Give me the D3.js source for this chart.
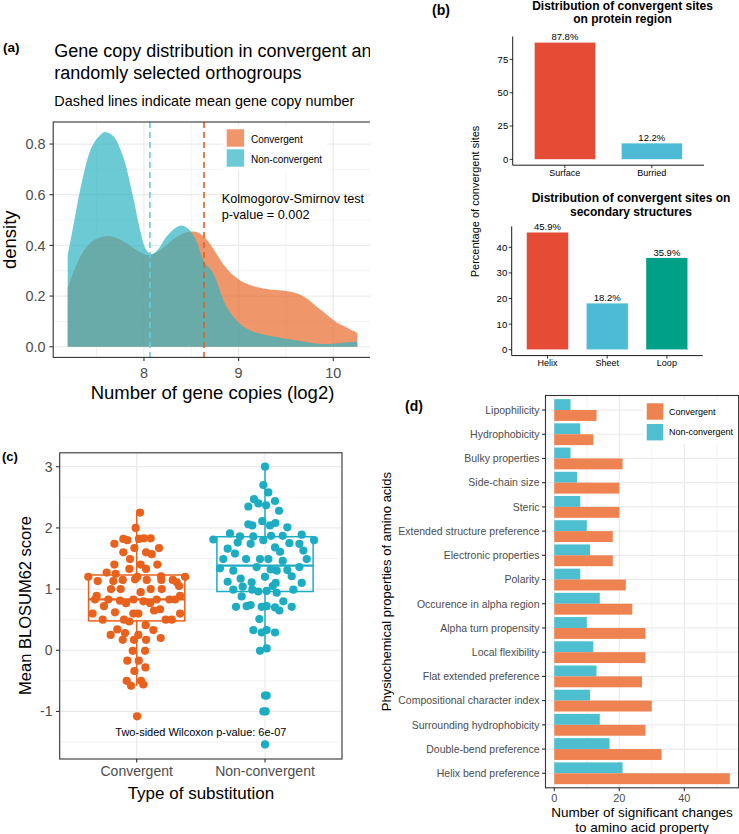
<!DOCTYPE html>
<html><head><meta charset="utf-8">
<script src="https://cdn.jsdelivr.net/npm/d3@7"></script>
<style>body{margin:0;background:#fff}svg{display:block;font-family:"Liberation Sans",Arial,Helvetica,sans-serif}</style>
</head><body><svg id="chart" width="739" height="834"></svg>
<script>
// ================= DATA =================
// (a) density of gene copy number (log2)
const densityGroups = ["Convergent", "Non-convergent"];
const convDensX = [7.194,7.25,7.35,7.45,7.55,7.62,7.72,7.85,7.95,8.03,8.12,8.25,8.35,8.45,8.52,8.6,8.68,8.76,8.85,8.95,9.05,9.2,9.35,9.5,9.62,9.72,9.82,9.92,10.02,10.12,10.254];
const convDensY = [0.233,0.29,0.37,0.415,0.433,0.437,0.428,0.4,0.375,0.362,0.37,0.405,0.435,0.452,0.455,0.445,0.415,0.37,0.32,0.28,0.255,0.235,0.225,0.22,0.21,0.19,0.16,0.13,0.1,0.08,0.055];
const nonDensX = [7.194,7.25,7.35,7.45,7.55,7.6,7.68,7.78,7.88,7.96,8.02,8.08,8.15,8.25,8.38,8.47,8.55,8.63,8.73,8.87,9.01,9.15,9.3,9.5,9.7,9.85,10.0,10.15,10.254];
const nonDensY = [0.36,0.47,0.66,0.79,0.84,0.847,0.83,0.75,0.6,0.46,0.385,0.365,0.385,0.44,0.478,0.465,0.42,0.34,0.29,0.16,0.092,0.06,0.045,0.032,0.02,0.012,0.012,0.018,0.02];
const meanCopies = [8.634, 8.063];
const densXTicks = [8, 9, 10];
const densYTicks = [0, 0.2, 0.4, 0.6, 0.8];
const densYTickLabels = ["0.0", "0.2", "0.4", "0.6", "0.8"];

// (b) convergent sites
const regionCats = ["Surface", "Burried"];
const regionPct = [87.8, 12.2];
const regionTicks = [0, 25, 50, 75];
const ssCats = ["Helix", "Sheet", "Loop"];
const ssPct = [45.9, 18.2, 35.9];
const ssTicks = [0, 10, 20, 30, 40];

// (c) BLOSUM62 scores
const substCats = ["Convergent", "Non-convergent"];
const boxQ1 = [0.48, 0.96];
const boxMedian = [0.833, 1.382];
const boxQ3 = [1.23, 1.856];
const whiskerLow = [-0.58, 0.0];
const whiskerHigh = [2.25, 3.0];
const convJitter = [0.026,-0.008,-0.104,-0.073,-0.174,0.018,0.057,0.109,-0.018,-0.104,0.073,0.117,0.174,-0.052,-0.174,0.031,0.073,0.161,-0.057,-0.234,-0.164,-0.377,0.377,-0.304,-0.182,-0.109,-0.013,0.005,0.078,0.19,0.192,0.281,0.312,-0.2,-0.125,0.031,0.109,0.195,0.33,-0.312,-0.325,0.338,0.299,-0.221,-0.13,-0.083,-0.026,0.052,0.104,0.156,0.255,-0.255,-0.343,-0.169,-0.026,0.013,0.135,0.182,0.338,-0.265,-0.099,-0.057,0.226,0.273,0.07,-0.151,-0.203,-0.091,0.013,0.13,-0.109,-0.021,0.073,0.187,-0.031,0.065,-0.073,0.016,0.068,-0.018,-0.078,0.034,-0.044,0.052,0.003];
const convScore = [2.25,2.0,1.82,1.8,1.74,1.82,1.83,1.83,1.67,1.6,1.6,1.57,1.67,1.49,1.4,1.4,1.33,1.4,1.33,1.27,1.25,1.2,1.2,1.13,1.13,1.15,1.16,1.2,1.15,1.21,1.15,1.15,1.11,1.0,1.0,0.95,1.0,1.0,1.05,0.89,0.83,0.89,0.83,0.83,0.81,0.77,0.83,0.8,0.77,0.83,0.83,0.72,0.6,0.62,0.6,0.6,0.65,0.67,0.6,0.5,0.5,0.47,0.5,0.5,0.41,0.34,0.25,0.28,0.25,0.33,0.17,0.17,0.17,0.2,-0.01,-0.01,-0.17,-0.17,-0.28,-0.34,-0.5,-0.5,-0.58,-0.56,-1.08];
const nonJitter = [0,-0.013,0.026,-0.086,-0.052,-0.13,0.008,0.078,0.109,-0.13,-0.099,-0.021,0.039,0.081,0.174,-0.273,-0.403,-0.195,-0.091,-0.013,0.047,0.138,0.286,0.382,-0.291,-0.213,-0.112,0.078,0.117,0.19,0.268,0.299,-0.234,-0.325,-0.148,-0.039,0.026,0.138,0.325,-0.351,-0.247,-0.065,0.044,0.091,0.174,0.268,-0.291,-0.19,-0.104,0,0.083,0.208,0.286,-0.247,-0.174,-0.099,-0.052,0.06,0.221,0.013,0.091,-0.182,-0.226,-0.143,-0.112,-0.026,0.013,0.078,0.112,0.143,0.208,-0.044,-0.091,-0.026,0.013,0.078,-0.039,0.013,0,0.013,-0.013,0.005,0];
const nonScore = [3.0,2.7,2.58,2.47,2.4,2.35,2.37,2.44,2.28,2.06,2.04,2.11,2.04,2.08,2.01,1.91,1.81,1.86,1.86,1.8,1.87,1.87,1.89,1.8,1.66,1.76,1.74,1.68,1.61,1.75,1.74,1.63,1.58,1.49,1.49,1.49,1.49,1.46,1.49,1.34,1.3,1.36,1.32,1.3,1.31,1.36,1.12,1.17,1.11,1.2,1.1,1.21,1.1,0.99,1.04,0.99,0.96,1.05,0.99,0.97,0.94,0.88,0.71,0.72,0.74,0.71,0.72,0.7,0.65,0.8,0.71,0.51,0.33,0.29,0.33,0.29,-0.01,0.03,-0.74,-0.74,-1.0,-1.0,-1.54];
const blosumTicks = [-1, 0, 1, 2, 3];

// (d) physicochemical properties
const propCats = ["Lipophilicity","Hydrophobicity","Bulky properties","Side-chain size","Steric","Extended structure preference","Electronic properties","Polarity","Occurence in alpha region","Alpha turn propensity","Local flexibility","Flat extended preference","Compositional character index","Surrounding hydrophobicity","Double-bend preference","Helix bend preference"];
const propConv = [13,12,21,20,20,18,18,22,24,28,28,27,30,28,33,54];
const propNon = [5,8,5,7,8,10,11,8,14,10,12,13,11,14,17,21];
const propTicks = [0, 20, 40];

// ================= DRAW =================
const svg = d3.select("#chart");
svg.append("rect").attr("width", 739).attr("height", 834).attr("fill", "#fff");
const defs = svg.append("defs");
defs.append("clipPath").attr("id", "clipA").append("rect").attr("x", 0).attr("y", 0).attr("width", 370).attr("height", 420);

const GRID = "#EBEBEB", BORDER = "#333333", TICKTXT = "#4D4D4D";
function txt(g, x, y, s, size, o = {}) {
  const t = g.append("text").attr("x", x).attr("y", y).text(s)
    .attr("font-size", size).attr("fill", o.fill || "#000")
    .attr("text-anchor", o.anchor || "start");
  if (o.bold) t.attr("font-weight", "bold");
  if (o.rot) t.attr("transform", `rotate(-90,${x},${y})`);
  if (o.dy) t.attr("dy", o.dy);
  return t;
}
function line(g, x1, y1, x2, y2, c, w, dash) {
  const l = g.append("line").attr("x1", x1).attr("y1", y1).attr("x2", x2).attr("y2", y2)
    .attr("stroke", c).attr("stroke-width", w);
  if (dash) l.attr("stroke-dasharray", dash);
  return l;
}

// ---------- Panel (a) ----------
const gA = svg.append("g").attr("clip-path", "url(#clipA)");
const xA = d3.scaleLinear().domain([7.041, 10.407]).range([53.2, 371.8]);
const yA = d3.scaleLinear().domain([-0.042, 0.887]).range([357.4, 122]);
[7.5, 8.5, 9.5].forEach(v => line(gA, xA(v), yA.range()[1], xA(v), yA.range()[0], GRID, 0.6));
[0.1, 0.3, 0.5, 0.7].forEach(v => line(gA, xA.range()[0], yA(v), xA.range()[1], yA(v), GRID, 0.6));
densXTicks.forEach(v => line(gA, xA(v), yA.range()[1], xA(v), yA.range()[0], GRID, 1.2));
densYTicks.forEach(v => line(gA, xA.range()[0], yA(v), xA.range()[1], yA(v), GRID, 1.2));

const area = d3.area().x(d => xA(d[0])).y0(yA(0)).y1(d => yA(d[1])).curve(d3.curveCatmullRom);
const convPts = convDensX.map((x, i) => [x, convDensY[i]]);
const nonPts = nonDensX.map((x, i) => [x, nonDensY[i]]);
const densFill = ["#E9692C", "#2DB3C2"];
gA.append("path").attr("d", area(convPts)).attr("fill", densFill[0]).attr("fill-opacity", 0.7);
gA.append("path").attr("d", area(nonPts)).attr("fill", densFill[1]).attr("fill-opacity", 0.7);
const meanCol = ["#D5652A", "#66CCE2"];
meanCopies.forEach((m, i) => line(gA, xA(m), yA.range()[1], xA(m), yA.range()[0], meanCol[i], 1.6, "6,4"));

// legend (a)
gA.append("rect").attr("x", 223).attr("y", 126).attr("width", 104).attr("height", 45).attr("fill", "#fff");
densityGroups.forEach((g, i) => {
  gA.append("rect").attr("x", 226.7).attr("y", 129.3 + i * 20).attr("width", 17.4).attr("height", 17.4)
    .attr("fill", densFill[i]).attr("fill-opacity", 0.7);
  txt(gA, 251, 142.5 + i * 20, g, 10);
});
txt(gA, 221.7, 203, "Kolmogorov-Smirnov test", 12.7);
txt(gA, 221.7, 218.8, "p-value = 0.002", 12.7);

// border and axes (a)
gA.append("rect").attr("x", 53.2).attr("y", 122).attr("width", 371.8 - 53.2).attr("height", 357.4 - 122)
  .attr("fill", "none").attr("stroke", BORDER).attr("stroke-width", 1.1);
densYTicks.forEach((v, i) => {
  line(gA, 49.5, yA(v), 53.2, yA(v), BORDER, 1.1);
  txt(gA, 45.5, yA(v), densYTickLabels[i], 14.4, { anchor: "end", fill: TICKTXT, dy: "0.36em" });
});
densXTicks.forEach(v => {
  line(gA, xA(v), 357.4, xA(v), 361, BORDER, 1.1);
  txt(gA, xA(v), 378.3, String(v), 14.4, { anchor: "middle", fill: TICKTXT });
});
txt(gA, 212.5, 398.5, "Number of gene copies (log2)", 18.5, { anchor: "middle" });
txt(gA, 16.5, 239.7, "density", 18.5, { anchor: "middle", rot: true });
txt(gA, 3, 52, "(a)", 13.5, { bold: true });
txt(gA, 54.3, 57, "Gene copy distribution in convergent and", 18);
txt(gA, 54.3, 78.5, "randomly selected orthogroups", 18);
txt(gA, 54.3, 106, "Dashed lines indicate mean gene copy number", 14.4);

// ---------- Panel (b) ----------
const gB = svg.append("g");
const npg = ["#E64B35", "#4DBBD5", "#00A087"];
function barChart(cats, vals, ticks, xr, yDom, yRange, labY) {
  const x = d3.scalePoint().domain(cats).range(xr).padding(0.6);
  const y = d3.scaleLinear().domain(yDom).range(yRange);
  const bw = x.step() * 0.7;
  cats.forEach((c, i) => {
    gB.append("rect").attr("x", x(c) - bw / 2).attr("y", y(vals[i])).attr("width", bw)
      .attr("height", y(0) - y(vals[i])).attr("fill", npg[i]).attr("stroke", "#fff").attr("stroke-width", 0.4);
    txt(gB, x(c), y(vals[i]) - 2, vals[i].toFixed(1) + "%", 9.5, { anchor: "middle" });
    line(gB, x(c), yRange[0], x(c), yRange[0] + 3, "#000", 0.8);
    txt(gB, x(c), labY, c, 9, { anchor: "middle" });
  });
  line(gB, xr[0], yRange[0], xr[0], yRange[1], "#000", 0.9);
  line(gB, xr[0], yRange[0], xr[1], yRange[0], "#000", 0.9);
  ticks.forEach(t => {
    line(gB, xr[0] - 3, y(t), xr[0], y(t), "#000", 0.8);
    txt(gB, xr[0] - 4.5, y(t), String(t), 9.5, { anchor: "end", dy: "0.36em" });
  });
}
barChart(regionCats, regionPct, regionTicks, [512.7, 704], [-4.39, 92.19], [165.2, 36.5], 175.7);
barChart(ssCats, ssPct, ssTicks, [511.7, 702.7], [-2.295, 48.195], [355.6, 226.3], 366);
txt(gB, 622.5, 9.5, "Distribution of convergent sites", 12, { anchor: "middle", bold: true });
txt(gB, 622.5, 23, "on protein region", 12, { anchor: "middle", bold: true });
txt(gB, 631, 201.7, "Distribution of convergent sites on", 12, { anchor: "middle", bold: true });
txt(gB, 631, 215.5, "secondary structures", 12, { anchor: "middle", bold: true });
txt(gB, 479, 201.5, "Percentage of convergent sites", 11, { anchor: "middle", rot: true });
txt(gB, 432, 15, "(b)", 14, { bold: true });

// ---------- Panel (c) ----------
const gC = svg.append("g");
const xC = d3.scalePoint().domain(substCats).range([59.7, 342]).padding(0.6);
const yC = d3.scaleLinear().domain([-1.7775, 3.2275]).range([759, 452.8]);
[-1.5, -0.5, 0.5, 1.5, 2.5].forEach(v => line(gC, 59.7, yC(v), 342, yC(v), GRID, 0.6));
blosumTicks.forEach(v => line(gC, 59.7, yC(v), 342, yC(v), GRID, 1.2));
substCats.forEach(c => line(gC, xC(c), 452.8, xC(c), 759, GRID, 1.2));
const subCol = ["#E8611D", "#1DADC3"];
const boxW = xC.step() * 0.75;
substCats.forEach((c, i) => {
  const cx = xC(c), col = subCol[i];
  line(gC, cx, yC(boxQ3[i]), cx, yC(whiskerHigh[i]), col, 1.5);
  line(gC, cx, yC(boxQ1[i]), cx, yC(whiskerLow[i]), col, 1.5);
  gC.append("rect").attr("x", cx - boxW / 2).attr("y", yC(boxQ3[i])).attr("width", boxW)
    .attr("height", yC(boxQ1[i]) - yC(boxQ3[i])).attr("fill", "none").attr("stroke", col).attr("stroke-width", 1.5);
  line(gC, cx - boxW / 2, yC(boxMedian[i]), cx + boxW / 2, yC(boxMedian[i]), col, 2.2);
});
const jit = [convJitter, nonJitter], sc = [convScore, nonScore];
substCats.forEach((c, i) => {
  sc[i].forEach((v, k) => {
    gC.append("circle").attr("cx", xC(c) + jit[i][k] * xC.step()).attr("cy", yC(v)).attr("r", 4.1).attr("fill", subCol[i]);
  });
});
gC.append("rect").attr("x", 59.7).attr("y", 452.8).attr("width", 342 - 59.7).attr("height", 759 - 452.8)
  .attr("fill", "none").attr("stroke", BORDER).attr("stroke-width", 1.1);
blosumTicks.forEach(v => {
  line(gC, 56, yC(v), 59.7, yC(v), BORDER, 1.1);
  txt(gC, 52.5, yC(v), String(v), 14, { anchor: "end", fill: TICKTXT, dy: "0.36em" });
});
substCats.forEach(c => {
  line(gC, xC(c), 759, xC(c), 762.6, BORDER, 1.1);
  txt(gC, xC(c), 775.7, c, 14, { anchor: "middle", fill: TICKTXT });
});
txt(gC, 200.9, 735.5, "Two-sided Wilcoxon p-value: 6e-07", 11, { anchor: "middle" });
txt(gC, 200.9, 798.5, "Type of substitution", 17, { anchor: "middle" });
txt(gC, 31, 605.5, "Mean BLOSUM62 score", 16.5, { anchor: "middle", rot: true });
txt(gC, 2, 461, "(c)", 13, { bold: true });

// ---------- Panel (d) ----------
const gD = svg.append("g");
const xD = d3.scaleLinear().domain([-2.7, 56.7]).range([545.5, 738.6]);
const yD = d3.scalePoint().domain(propCats).range([395.5, 787.8]).padding(0.6);
[10, 30, 50].forEach(v => line(gD, xD(v), 395.5, xD(v), 787.8, GRID, 0.6));
propTicks.forEach(v => line(gD, xD(v), 395.5, xD(v), 787.8, GRID, 1.2));
propCats.forEach(c => line(gD, 545.5, yD(c), 738.6, yD(c), GRID, 1.2));
const propCol = ["#EF8251", "#4EBFD0"];
const bh = yD.step() * 0.45;
propCats.forEach((c, i) => {
  gD.append("rect").attr("x", xD(0)).attr("y", yD(c) - bh).attr("width", xD(propNon[i]) - xD(0)).attr("height", bh).attr("fill", propCol[1]);
  gD.append("rect").attr("x", xD(0)).attr("y", yD(c)).attr("width", xD(propConv[i]) - xD(0)).attr("height", bh).attr("fill", propCol[0]);
});
gD.append("rect").attr("x", 643).attr("y", 400).attr("width", 95).attr("height", 44).attr("fill", "#fff");
["Convergent", "Non-convergent"].forEach((g, i) => {
  gD.append("rect").attr("x", 646.7).attr("y", 403.3 + i * 20.7).attr("width", 16.6).attr("height", 16.4).attr("fill", propCol[i]);
  txt(gD, 669, 415 + i * 20.3, g, 9);
});
gD.append("rect").attr("x", 545.5).attr("y", 395.5).attr("width", 738.6 - 545.5).attr("height", 787.8 - 395.5)
  .attr("fill", "none").attr("stroke", BORDER).attr("stroke-width", 1.1);
propCats.forEach(c => {
  line(gD, 542, yD(c), 545.5, yD(c), BORDER, 1.1);
  txt(gD, 539.5, yD(c), c, 10.5, { anchor: "end", fill: TICKTXT, dy: "0.36em" });
});
propTicks.forEach(v => {
  line(gD, xD(v), 787.8, xD(v), 791.3, BORDER, 1.1);
  txt(gD, xD(v), 801.7, String(v), 11, { anchor: "middle", fill: TICKTXT });
});
txt(gD, 642, 817, "Number of significant changes", 13.5, { anchor: "middle" });
txt(gD, 642, 832, "to amino acid property", 13.5, { anchor: "middle" });
txt(gD, 391, 591.6, "Physiochemical properties of amino acids", 13, { anchor: "middle", rot: true });
txt(gD, 405, 411, "(d)", 14, { bold: true });
</script></body></html>
